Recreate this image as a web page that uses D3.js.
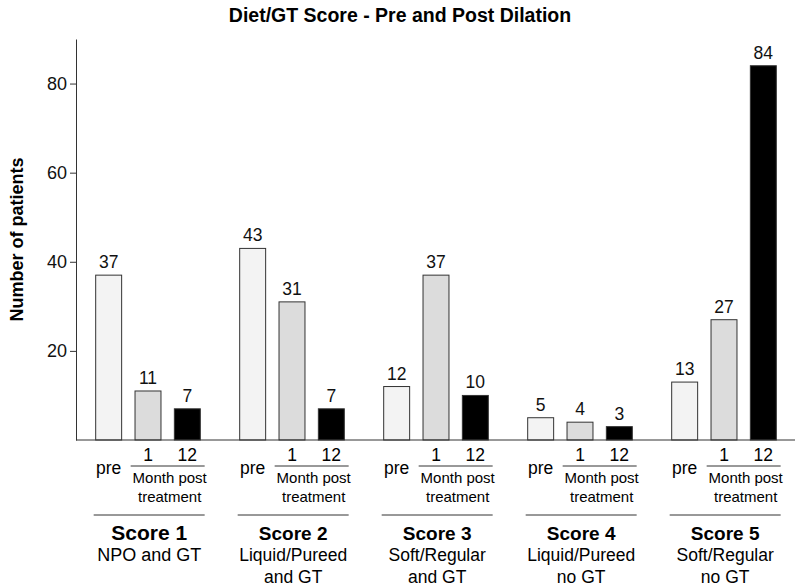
<!DOCTYPE html>
<html>
<head>
<meta charset="utf-8">
<script src="https://cdn.jsdelivr.net/npm/d3@7"></script>
<style>
  body { margin: 0; background: #fff; }
  svg { display: block; font-family: "Liberation Sans", Arial, sans-serif; }
</style>
</head>
<body>
<div id="chart"></div>
<script>
// data
const groups = ["Score 1", "Score 2", "Score 3", "Score 4", "Score 5"];
const descriptions = [
  ["NPO and GT"],
  ["Liquid/Pureed", "and GT"],
  ["Soft/Regular", "and GT"],
  ["Liquid/Pureed", "no GT"],
  ["Soft/Regular", "no GT"]
];
const times = ["pre", "1", "12"];
const preValues = [37, 43, 12, 5, 13];
const month1Values = [11, 31, 37, 4, 27];
const month12Values = [7, 7, 10, 3, 84];
const yTicks = [20, 40, 60, 80];

const colors = {"pre": "#f3f3f3", "1": "#dcdcdc", "12": "#000000"};

const width = 800, height = 587;
const margin = {top: 39, right: 4, bottom: 147, left: 76};

const rows = groups.map((g, i) => ({
  group: g,
  values: [
    {t: "pre", v: preValues[i]},
    {t: "1", v: month1Values[i]},
    {t: "12", v: month12Values[i]}
  ]
}));

const svg = d3.select("#chart").append("svg")
  .attr("width", width)
  .attr("height", height);

const x0 = d3.scaleBand()
  .domain(groups)
  .range([margin.left, width - margin.right]);

const x1 = d3.scaleBand()
  .domain(times)
  .range([0, 118])
  .paddingInner(0.34)
  .paddingOuter(0.17);

const y = d3.scaleLinear()
  .domain([0, 90])
  .range([height - margin.bottom, margin.top]);

const base = y(0);
const gx = g => x0(g) + x0.bandwidth() / 2 - 59;

// title
svg.append("text")
  .attr("x", 400)
  .attr("y", 22)
  .attr("text-anchor", "middle")
  .attr("font-weight", "bold")
  .attr("font-size", 19.5)
  .text("Diet/GT Score - Pre and Post Dilation");

// y axis
svg.append("g")
  .attr("transform", `translate(${margin.left},0)`)
  .call(d3.axisLeft(y).tickValues(yTicks).tickSize(6).tickSizeOuter(0))
  .call(g => g.select(".domain").attr("stroke", "#333"))
  .call(g => g.selectAll(".tick line").attr("stroke", "#333"))
  .call(g => g.selectAll(".tick text")
    .attr("font-size", 18)
    .attr("font-family", "Liberation Sans, Arial, sans-serif")
    .attr("fill", "#111")
    .attr("x", -9));

svg.append("text")
  .attr("transform", `translate(23,${y(45)}) rotate(-90)`)
  .attr("text-anchor", "middle")
  .attr("font-weight", "bold")
  .attr("font-size", 18)
  .text("Number of patients");

// bars
const grp = svg.append("g").selectAll("g")
  .data(rows)
  .join("g")
  .attr("transform", d => `translate(${gx(d.group)},0)`);

grp.selectAll("rect")
  .data(d => d.values)
  .join("rect")
  .attr("x", d => x1(d.t))
  .attr("y", d => y(d.v))
  .attr("width", x1.bandwidth())
  .attr("height", d => base - y(d.v))
  .attr("fill", d => colors[d.t])
  .attr("stroke", "#333")
  .attr("stroke-width", 1);

grp.selectAll("text.val")
  .data(d => d.values)
  .join("text")
  .attr("class", "val")
  .attr("x", d => x1(d.t) + x1.bandwidth() / 2)
  .attr("y", d => y(d.v) - 7)
  .attr("text-anchor", "middle")
  .attr("font-size", 17.5)
  .attr("fill", "#111")
  .text(d => d.v);

// x axis line
svg.append("line")
  .attr("x1", margin.left)
  .attr("x2", width - 5)
  .attr("y1", base)
  .attr("y2", base)
  .attr("stroke", "#333");

// category labels under the axis
const lab = svg.append("g").selectAll("g")
  .data(rows)
  .join("g")
  .attr("transform", (d, i) => `translate(${gx(d.group)},0)`);

const mid = (x1("1") + x1("12") + x1.bandwidth()) / 2;

lab.append("text")
  .attr("x", x1("pre") + x1.bandwidth() / 2)
  .attr("y", base + 34)
  .attr("text-anchor", "middle")
  .attr("font-size", 17.5)
  .text("pre");

lab.selectAll("text.mon")
  .data(["1", "12"])
  .join("text")
  .attr("class", "mon")
  .attr("x", d => x1(d) + x1.bandwidth() / 2)
  .attr("y", base + 21)
  .attr("text-anchor", "middle")
  .attr("font-size", 17.5)
  .text(d => d);

lab.append("line")
  .attr("x1", mid - 37)
  .attr("x2", mid + 37)
  .attr("y1", base + 26)
  .attr("y2", base + 26)
  .attr("stroke", "#333");

lab.append("text")
  .attr("x", mid + 2)
  .attr("y", base + 43)
  .attr("text-anchor", "middle")
  .attr("font-size", 15)
  .text("Month post");

lab.append("text")
  .attr("x", mid + 2)
  .attr("y", base + 62)
  .attr("text-anchor", "middle")
  .attr("font-size", 15)
  .text("treatment");

lab.append("line")
  .attr("x1", x1("pre") - 2)
  .attr("x2", mid + 37)
  .attr("y1", base + 75)
  .attr("y2", base + 75)
  .attr("stroke", "#333");

const cx = (x1("pre") - 2 + mid + 37) / 2;

lab.append("text")
  .attr("x", cx)
  .attr("y", base + 100)
  .attr("text-anchor", "middle")
  .attr("font-weight", "bold")
  .attr("font-size", (d, i) => i === 0 ? 21 : 19)
  .text(d => d.group);

lab.each(function(d, i) {
  d3.select(this).selectAll("text.desc")
    .data(descriptions[i])
    .join("text")
    .attr("class", "desc")
    .attr("x", cx)
    .attr("y", (t, j) => base + 121 + j * 22)
    .attr("text-anchor", "middle")
    .attr("font-size", i === 0 ? 18 : 17.5)
    .text(t => t);
});
</script>
</body>
</html>
